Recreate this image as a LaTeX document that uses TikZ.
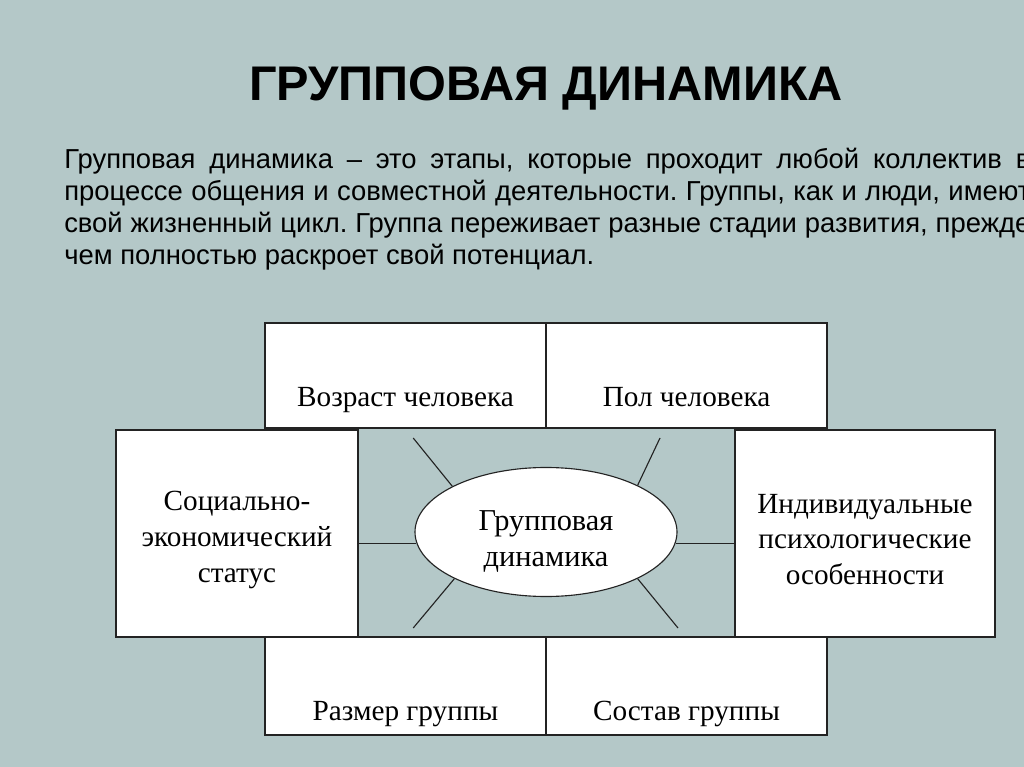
\documentclass[tikz,border=0pt]{standalone}
\usepackage{fontspec}
\setmainfont{Liberation Serif}
\newfontfamily\headfont{Liberation Sans}
\usetikzlibrary{positioning,shapes.geometric}
\definecolor{slide}{RGB}{180,200,200}
\definecolor{frame}{RGB}{35,35,35}

\begin{document}
\begin{tikzpicture}[
        factor/.style={rectangle, draw=frame, line width=1.1pt, fill=white, inner sep=0pt},
        boxtext/.style={inner sep=0pt, align=center, font=\fontsize{20.8}{25.5}\selectfont},
        core/.style={ellipse, draw=frame, line width=0.8pt, fill=white, minimum width=6.55cm, minimum height=3.225cm,
            inner sep=0pt},
        ray/.style={draw=frame, line width=0.8pt}
    ]
        % Slide
        \useasboundingbox (0,0) rectangle (25.6,-19.175);
        \clip (0,0) rectangle (25.6,-19.175);
        \fill[slide] (0,0) rectangle (25.6,-19.175);

        % Heading
        \node[font=\headfont\bfseries\fontsize{34.6}{40}\selectfont] (title) at (13.65,-2.22) {ГРУППОВАЯ ДИНАМИКА};
        \node[anchor=north west, inner sep=0pt, text width=24.15cm, align=justify,
            font=\headfont\fontsize{19.5}{22.7}\selectfont] (intro) at (1.6,-3.7)
            {\frenchspacing\hyphenpenalty=10000 \tolerance=10000
             Групповая динамика – это этапы, которые проходит любой коллектив в\linebreak
             процессе общения и совместной деятельности. Группы, как и люди, имеют\linebreak
             свой жизненный цикл. Группа переживает разные стадии развития, прежде\linebreak
             чем полностью раскроет свой потенциал.};

        % Factors
        \node[factor, minimum width=7.025cm, minimum height=2.625cm] (age) at (10.1375,-9.3875) {};
        \node[factor, minimum width=7.025cm, minimum height=2.625cm] (sex) at (17.1625,-9.3875) {};
        \node[factor, minimum width=7.025cm, minimum height=2.45cm] (size) at (10.1375,-17.15) {};
        \node[factor, minimum width=7.025cm, minimum height=2.45cm] (comp) at (17.1625,-17.15) {};
        \node[factor, minimum width=6.05cm, minimum height=5.175cm] (soc) at (5.925,-13.3375) {};
        \node[factor, minimum width=6.5cm, minimum height=5.175cm] (ind) at (21.625,-13.3375) {};

        \node[boxtext, above=0.55cm of age.south, anchor=base] (agetext) {Возраст человека};
        \node[boxtext, above=0.55cm of sex.south, anchor=base] (sextext) {Пол человека};
        \node[boxtext, above=0.38cm of size.south, anchor=base] (sizetext) {Размер группы};
        \node[boxtext, above=0.38cm of comp.south, anchor=base] (comptext) {Состав группы};
        \node[boxtext] (soctext) at ([yshift=-0.17cm]soc.center) {Социально-\\экономический\\статус};
        \node[boxtext] (indtext) at ([yshift=-0.15cm]ind.center) {Индивидуальные\\психологические\\особенности};

        % Centre
        \node[core] (ell) at (13.65,-13.3) {};
        \node[boxtext, font=\fontsize{21.6}{26}\selectfont] (elltext) at ([yshift=-0.24cm]ell.center)
            {Групповая\\динамика};

        % Rays
        \foreach \ang/\x/\y [count=\i] in {154/10.33/-10.95, 27/16.5/-10.95, 207/10.33/-15.7, 333/16.95/-15.7} {
            \coordinate (ray\i) at (\x,\y);
            \draw[ray] (ell.\ang) -- (ray\i);
        }
        \draw[ray] (ell.185) -- (soc.east |- ell.185);
        \draw[ray] (ell.355) -- (ind.west |- ell.355);
    \end{tikzpicture}
\end{document}
